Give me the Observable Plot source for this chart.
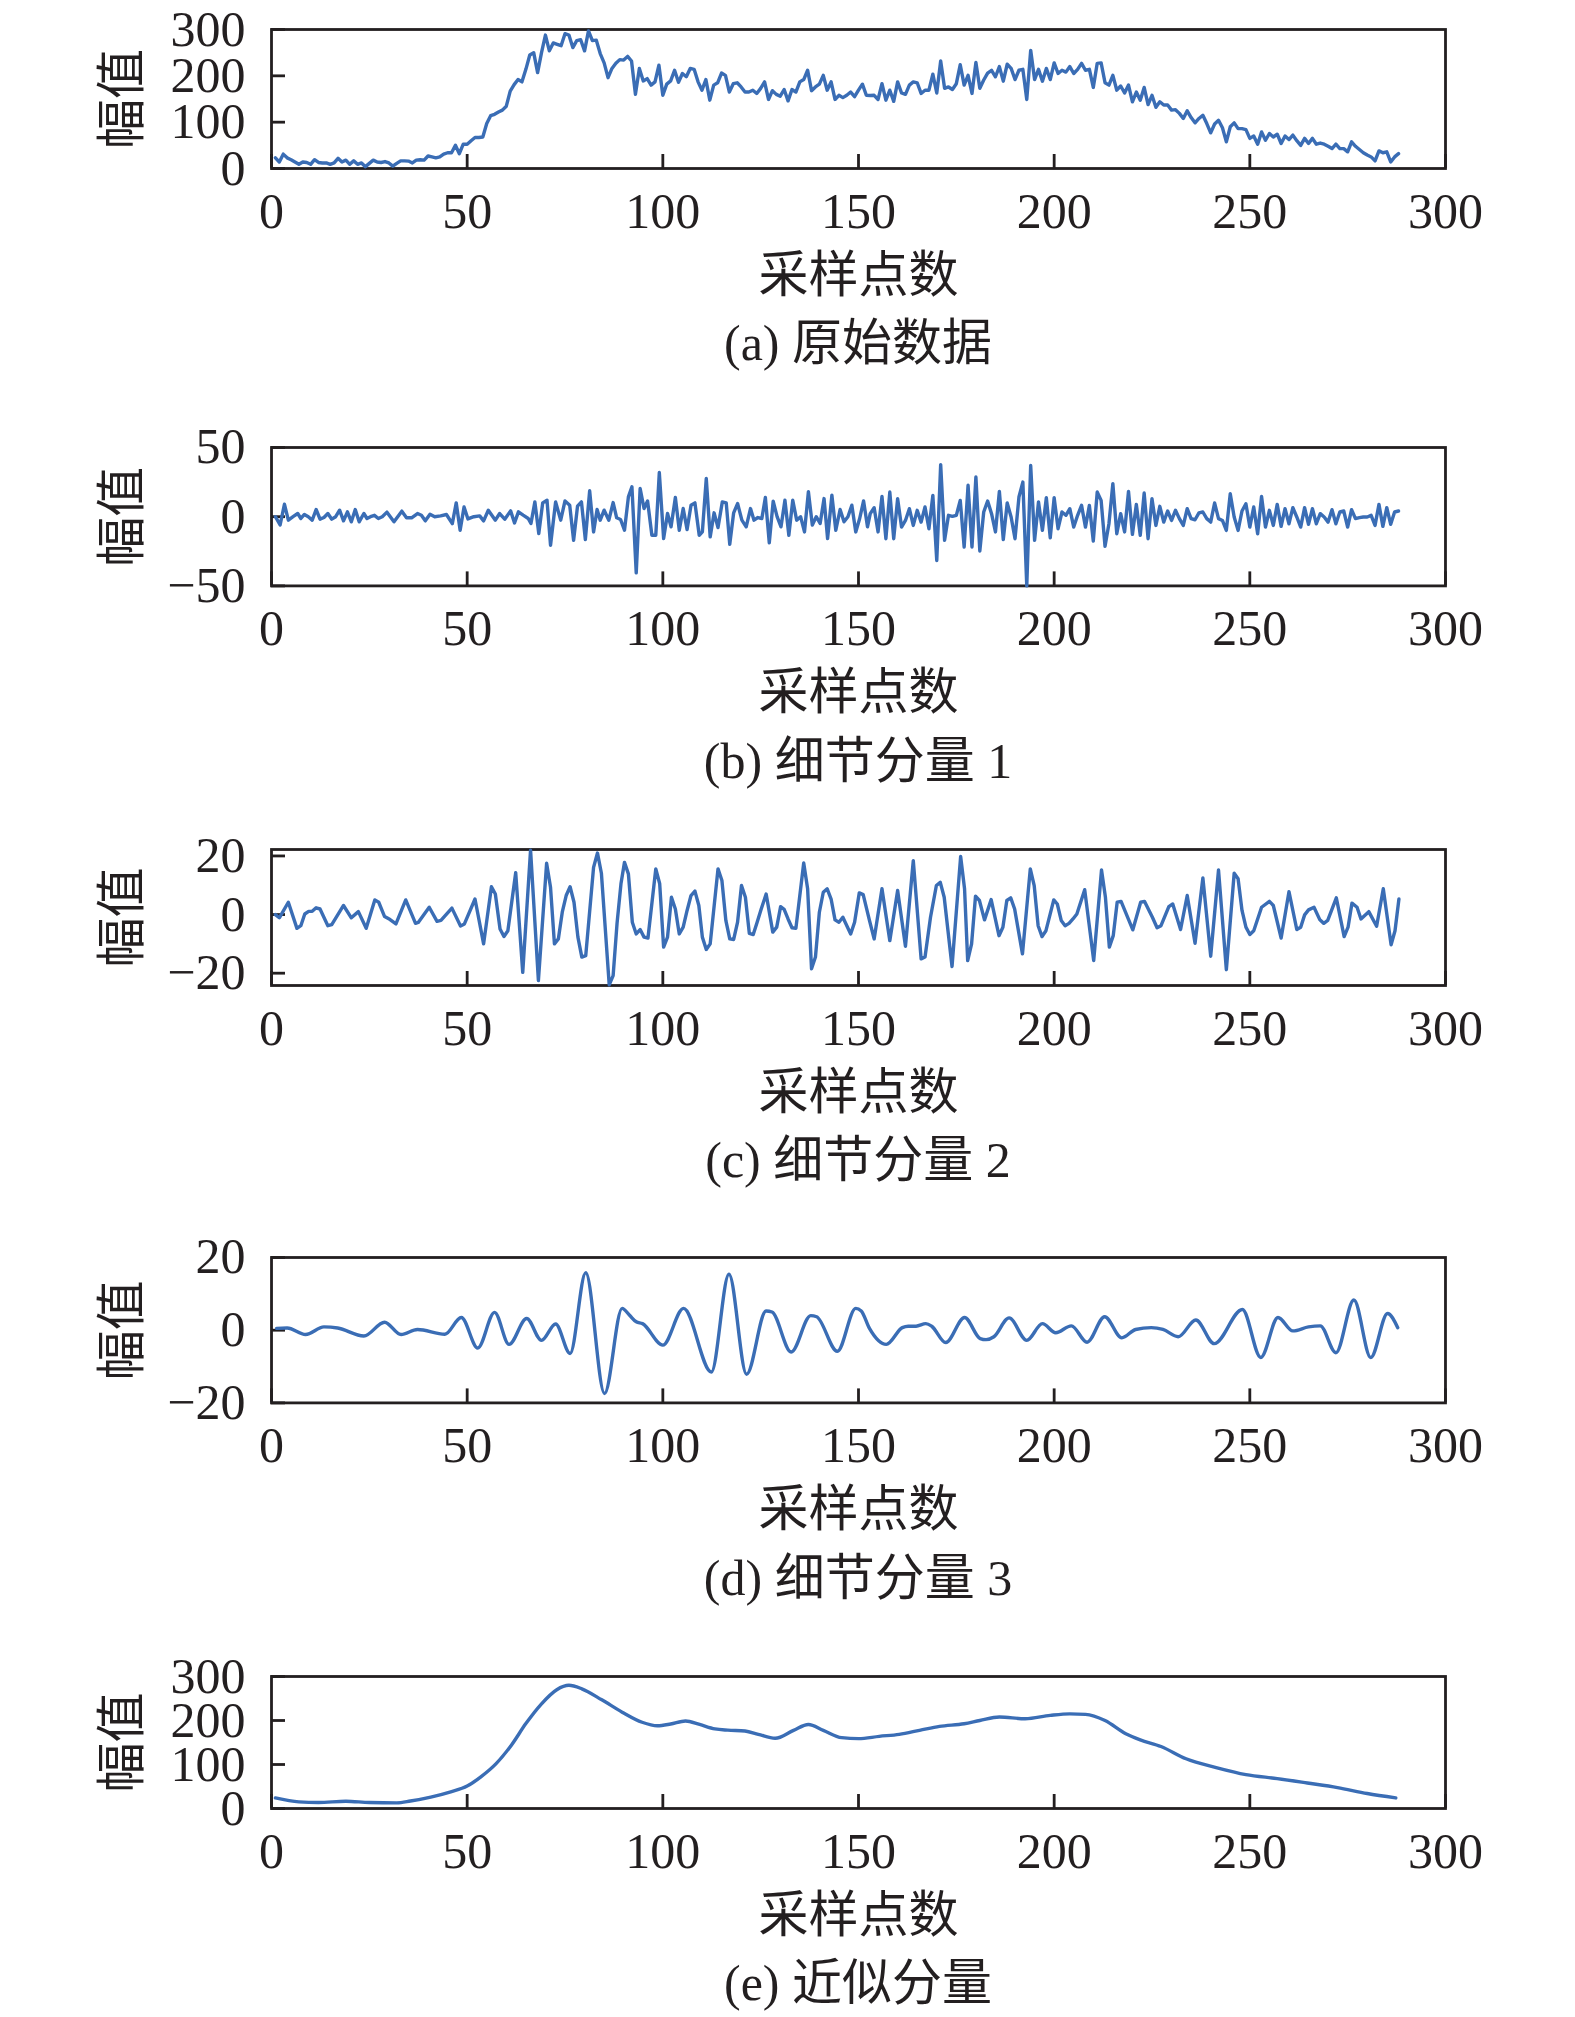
<!DOCTYPE html>
<html>
<head>
<meta charset="utf-8">
<script src="https://cdn.jsdelivr.net/npm/d3@7"></script>
<script src="https://cdn.jsdelivr.net/npm/@observablehq/plot@0.6"></script>
<style>
  html, body { margin: 0; padding: 0; background: #fff; }
  #root { position: relative; width: 1575px; height: 2017px; overflow: hidden; background: #fff; }
  .panel { position: absolute; left: 0; }
  .cap { position: absolute; left: 271px; width: 1174px; text-align: center; font-size: 50px; line-height: 60px;
         font-family: "Liberation Serif", "Noto Sans CJK SC", serif; color: #231f20; white-space: pre; }
</style>
</head>
<body>
<div id="root"></div>
<script>
// ---------- data ----------
const xTicks = [0, 50, 100, 150, 200, 250, 300];

// (a) original data, sample index 1..288
const original = [
  23,14,31,23,19,14,9,14,13,9,19,13,12,12,9,12,22,14,18,9,
  16.5,9,12,4,11,18,14,13,15,12,5,11,16.5,16.5,16,12,18,19,18,27,
  25,23,25,31,34,34,50,32,52.5,52.5,60,67,67,68,97,114,117,122,126,134.5,
  167,181,192,187,214,245,250,207,250,288,254,271,268,265,291,288,261,276,278,254,
  297,276,277,248,228,196,216,227,235,234,242,232,160,216,189,194,180,187,223,158,
  182,189,212,186,205,198,216,214,187,169,192,147.5,180,185,206,201,165,183,185,176,
  165,165,169,162,173,187,149,168,160,156,170.5,146,170.5,165,187,192,212,168,176,182,
  201,169,187,149,158,153,158,165,
  155,169,182,158,157.5,158,149,183,147.5,169,145,187,163,160,180,187,185,162,169,169,
  203.5,163,232,173,176,170.5,183,224,180,201,162,229,173,191,206,212,198,220,188.5,225,
  216,192,212,214,
  149,255,192,214,188.5,216,192,228,205,212,208,220,205,214,227,212,214,175,227,228,
  185,180,201,169,178,163,180,144,165,147.5,175,138,158,132,144,137,137,126,127,119,
  108,124.5,110,98.5,108,115,97,77,96,104,88,57.5,90,98.5,86,86,84,65,70,52.5,
  79,61,75.5,68,74,54,70,62.5,72,60,50,65,54,65,52.5,55,52.5,48,43,52.5,
  43,43,36,57.5,48,41,34,29,25,16.5,38,34,36,14,25,32
];

// (b) detail component 1: first part as [sample, value], second part from sample 153 on
const detail1Early = [
  [1,0],[2.2,-6],[3.3,9],[4.3,-2.5],[5.5,0],[6.7,2.3],[7.5,-1.3],[8.4,1.6],[9.4,0],[10.4,-2.5],
  [11.4,5.2],[12.4,-1.8],[13.4,-0.6],[14.4,2.3],[15.4,-1.8],[16.4,0],[17.4,4.7],[18.4,-3],[19.4,3.5],[20.4,-3.7],
  [21.4,5.2],[22.4,-3.7],[23.6,2.3],[24.4,-1.3],[25.3,0],[26.3,1],[27.3,-1.3],[28.3,0],[29.5,3.3],[31.3,-3.7],
  [33.3,4],[34.5,-0.8],[35.8,-0.8],[37.3,2.3],[38.3,1],[39.3,-3],[40.5,1.8],[41.7,0],[43.2,0.6],[44.7,1.6],
  [46.2,-5],[47.2,10],[48.2,-9.8],[49.2,7],[50.2,-1.6],[51.7,0],[53.2,0.6],[54.2,-3],[55.4,4.7],[57.2,-2.5],
  [58.3,2.3],[59.6,-1.8],[61.1,4.2],[62.1,-4.5],[63.1,3.5],[64.3,1.1],[65.6,-1.3],[66.3,-4.9],[67.3,10.7],[68.3,-12.2],
  [69.3,10],[70.4,11.9],[71.3,-20.6],[72.6,10.7],[73.9,-2.5],[75,11.4],[76.2,8.3],[77.2,-17],[78.2,7.6],[79.2,10.7],
  [80.2,-16.5],[81.3,18.7],[82.3,-11],[83.2,5.2],[84,-2.5],[85,4.7],[86.2,-2.5],[87.3,10.2],[88.2,-0.8],[89.2,-2],
  [90.2,-9.8],[91.2,14.3],[92.1,21.6],[93.2,-40.6],[94.2,20.4],[95.2,5.9],[96.1,11.4],[97.2,-13.4],[98.2,-13.4],[99.1,31.9],
  [100.2,-15.8],[101.2,2.3],[102.1,-7.3],[103.2,13.9],[104.2,-9.8],[105.2,5.9],[106.2,-9.3],[107.2,8.3],[108.2,10],[109.3,-13.4],
  [110.1,-11],[111.1,27.6],[112.1,-14.6],[113.1,2.8],[114.1,-7.8],[115.2,10.7],[116.2,10],[117.1,-19.9],[118.1,2.8],[119.1,9.5],
  [120.2,-2.5],[121.3,-7.3],[122.4,5.9],[123.3,-2.5],[124.3,-0.6],[125.3,-1.3],[126.2,13.9],[127.2,-18.9],[128.2,11.2],[129.2,0],
  [130.2,-7.3],[131.2,11.9],[132.2,-13.4],[133.2,11.9],[134.2,-2.5],[135.2,0],[136.2,-11],[137.2,18],[138.2,-6.1],[139.2,0],
  [140.2,-4.9],[141.2,13.1],[142.1,-15.8],[143.2,15.5],[144.2,-9.8],[145.3,5.2],[146.3,-3.7],[147.3,0],[148.3,8.3],[149.3,-11],
  [150.3,-1.3],[151.3,11.4],[152.3,-7.3]
];
const detail1LateStart = 153;
const detail1Late = [
  2.2,6.5,-11,14.7,-15.9,17.8,-15.9,13,-7.5,-2.7,
  5.8,-6.3,4.6,-3.9,7,-8.7,15.4,-31.6,37.6,-17.1,
  1,0.2,1,11.8,-21.9,22.7,-21.9,28.7,-24.8,3.4,
  11.3,2.2,-11,18.3,-16.6,9.9,-0.2,-15.9,14.2,25,
  -50,37,-17.1,10.6,-9.9,13.7,-15.2,13.7,-8.7,3.4,
  1,5.8,-7.5,1,8.2,-7.5,8.2,-17.6,17.8,11.8,
  -21.4,-5.1,23.9,-12.3,2.2,-11,18.3,-12.8,8.9,-13.5,
  17.1,-15.9,13,-6.3,7.5,-3.9,4.1,-2.7,4.6,-1.4,
  -6.3,5.8,-1.4,-2.2,2.7,3.4,-1.4,-3.9,
  9.9,-1.4,-2.7,-9.9,16.6,-0.2,-9.9,4.1,9.4,-7.5,
  7,-12.3,14.7,-7.5,4.6,-6.3,8.9,-7,5.8,-5.1,
  6.5,-0.2,-7.5,6.5,-5.5,5.8,-5.1,2.2,-0.2,-3.9,
  5.1,-5.1,3.4,4.1,-7.5,5.1,-1.4,-0.7,-0.2,-0.2,
  1,-6.3,8.9,-7,6.5,-5.5,3.4,4.1
];

// (c) detail component 2: [sample, value]
const detail2 = [
  [1,0],[2,-1.1],[4.3,4.2],[6.5,-4.7],[7.5,-3.8],[8.5,0.2],[9.5,1.1],[10.4,1.1],[11.4,2.3],[12.4,1.9],
  [14.4,-3.8],[15.4,-3.4],[18.4,3.1],[20.4,-1.1],[22.2,1],[24.2,-4.7],[26.4,5],[27.4,4.2],[28.9,-0.7],[30.3,-1.7],
  [31.8,-3.2],[34.3,5],[36.8,-3],[37.5,-2.7],[40.3,2.5],[42.3,-2.3],[43.3,-2],[46.1,2.2],[48.3,-3.9],[49.3,-3.2],
  [52,5.3],[54.2,-10],[56.2,9.5],[57.2,7],[58.4,-4.9],[59.4,-7.5],[60.4,-5.5],[62.4,14.3],[64.2,-19.7],[66.2,22],
  [68.2,-22.5],[70.3,17.5],[71.3,9.3],[72.3,-10],[73.3,-8.3],[74.3,0.8],[75.3,6.5],[76.3,9.5],[77.3,4.2],[78.3,-7.7],
  [79.3,-14.5],[80.3,-14],[82.3,16.1],[83.3,21],[84.3,14.1],[86.3,-24],[87.3,-20.8],[88.3,-3],[89.3,10.5],[90.2,17.8],
  [91.2,13.9],[92.2,-2.6],[93.2,-6.6],[94.2,-5.1],[95.2,-7.7],[96.2,-8],[98.2,15.6],[99.2,10.5],[100.2,-11.1],[101.2,-7.7],
  [102.2,5.9],[103.2,1.9],[104.2,-6.6],[105.2,-4.3],[106.2,1.4],[107.2,6.5],[108.2,8],[109.2,3.1],[110.1,-7.7],[111.1,-11.9],
  [112.1,-10],[114.1,15.6],[115.1,11.6],[116.1,-2],[117.1,-8.3],[118.1,-8.5],[119.1,-2.6],[120.1,9.9],[121.1,5.9],[122.1,-6.4],
  [123.1,-6.8],[124.1,-2.6],[125.1,1.7],[126.4,7],[128.1,-6],[129.1,-4.3],[130.1,2.7],[131,1.8],[132,-1.5],[133,-4.5],
  [134,-4.7],[136,17.6],[137,8.8],[138,-18.5],[139,-14.5],[140,0.8],[141,7.6],[142,8.8],[143,5.3],[144,-1.8],
  [145,-2.6],[146,-0.9],[148,-6.6],[149,-2.6],[150.2,7.4],[151.2,6.8],
  [152.8,-2],[154,-8.3],[156,8.8],[158,-8.9],[160,8.2],[162,-10.8],[164,18.4],[166,-15.1],[167,-14.5],[168.4,-0.9],
  [169.9,9.9],[170.9,11],[171.9,5.9],[173.9,-17.7],[176.1,19.8],[177.1,8.8],[177.9,-15.7],[178.9,-10],[179.9,6.3],[180.9,4.8],
  [182.2,-1.8],[183.9,5.1],[185.9,-7.2],[186.9,-4.3],[187.9,4.8],[188.9,5.7],[189.9,1.9],[191.9,-13.4],[193.9,15.6],[194.9,9.9],
  [195.9,-3.8],[196.9,-7.5],[197.9,-5.5],[199.9,5],[200.8,3.6],[201.8,-2],[202.8,-3.8],[203.8,-3],[204.8,-1.5],[205.8,0.2],
  [207.8,8.5],[210.1,-15.7],[212.1,15.2],[213.1,5.9],[214.1,-11.1],[215.1,-7.2],[216.1,4.2],[217.1,4.5],[219.1,-2],[220.1,-5.2],
  [222.1,4.2],[223.1,4.5],[225.1,-0.9],[226.3,-4.5],[227.3,-3.8],[229.3,2.7],[230.3,3.6],[232.3,-5.1],[234,6.5],[236,-9.8],
  [238,12.5],[240,-14.2],[242,15.2],[244,-18.8],[246,14.1],[247,12.2],[248,1.4],[249,-4.3],[250,-6.8],[251,-5.5],
  [253,2.5],[255,4.5],[256,3.1],[258,-8],[260,7.8],[262,-5.1],[263,-4.3],[264,-0.1],[265,1.6],[266.4,2.5],
  [267.9,-1.8],[268.9,-3],[269.9,-2],[272.1,5.7],[274.1,-7.5],[275.1,-4.3],[276.1,3.9],[277.4,2.5],[278.4,-1.5],[280.4,1],
  [282.4,-4],[284.1,8.8],[286.1,-10.3],[287.1,-5.5],[288.1,5.3]
];

// (d) detail component 3: turning points [sample, value]
const detail3 = [
  [1.3,0.5],[4,0.6],[8.7,-1.2],[13.4,0.9],[16.9,0.6],[23.6,-1.6],[28.9,2.2],[33.1,-1.2],[37.3,0.2],[44.3,-1.1],
  [48.5,3.5],[52.7,-4.9],[57,4.9],[60.7,-3.9],[65.2,3.2],[69,-2.8],[72.6,1.7],[76.3,-6.4],[80.3,15.8],[85.1,-17.4],
  [89.6,6],[91.5,4.1],[93.2,2.3],[94.8,1.8],[100,-4.1],[105.3,6],[112.4,-11.5],[116.9,15.4],[121.4,-12.1],[126.4,5.3],
  [127.9,5],[132.8,-6],[137.8,4],[139.3,3.7],[144.6,-5.8],[149.3,6],[150.7,5.3],
  [152.8,0.5],[157.1,-3.9],[161.2,0.7],[162.7,1.1],[164.7,1.1],[167.2,1.8],[168.7,1.1],[172.3,-3.4],[177.1,3.5],[181.1,-2.3],
  [182.6,-2.6],[184.6,-1.8],[188.5,3.4],[193,-2.8],[197,1.8],[200.4,-0.7],[204.4,1.2],[208.4,-3.3],[212.9,3.7],[217.3,-2.1],
  [220.8,0.2],[224.8,0.7],[227.8,0.2],[231.7,-1.8],[236.2,2.8],[240.9,-3.7],[248.1,5.7],[252.8,-7.5],[257.2,3.5],[261,-0.2],
  [265,0.9],[268,1.2],[272,-6.2],[276.6,8.3],[280.9,-7.5],[285.2,4.6],[287.8,0.7]
];

// (e) approximation component: [sample, value]
const approx = [
  [1,24],[7,15],[12,13.6],[19,16.6],[25,13.6],[32,12.8],[35.5,17],[40.7,26],[45.8,38],[50,51],
  [53.5,72],[57.4,102],[61.3,144],[65,193],[69,238],[72.9,270],[76,280],[79.3,272],[84.4,247],[89.6,219],
  [94.7,196],[98.6,188],[102,192],[105.8,199],[109.4,191],[113.3,181],[116.6,178],[121,176],[124.4,168.5],[128.7,159.5],
  [133.4,177.6],[137.2,191],[141,177.6],[145.7,161],[150,158.7],[155.3,164],[160.4,168.5],[165.6,177.6],[170.7,186.7],[177,192.7],
  [181,200],[186,208],[192.6,204],[199,211.6],[204,215],[208,214],[213,200],[218.3,170],[222,156],[227.3,141],
  [233.7,113],[241.4,93],[249,77],[257,68],[264.7,58],[272.4,47.6],[280,34],[287.3,24]
];

const yTicksA = [0, 100, 200, 300];
const yTicksB = [-50, 0, 50];
const yTicksC = [-20, 0, 20];
const yTicksD = [-20, 0, 20];
const yTicksE = [0, 100, 200, 300];

const xLabel = "采样点数";
const yLabel = "幅值";
const captions = ["(a) 原始数据", "(b) 细节分量 1", "(c) 细节分量 2", "(d) 细节分量 3", "(e) 近似分量"];

// ---------- drawing ----------
const BLUE = "#3a6db5";
const INK = "#231f20";
const SERIF = "Liberation Serif, serif";
const CJK = "Noto Sans CJK SC, sans-serif";
const W = 1575, ML = 271, MR = 130, MT = 40, MB = 150;
const innerW = W - ML - MR;
const fmt = d => (d < 0 ? "\u2212" + Math.abs(d) : String(d));

const root = document.getElementById("root");

function panel(opts) {
  const { top, innerH, domain, yticks, data, curve, caption } = opts;
  const chart = Plot.plot({
    width: W,
    height: MT + innerH + MB,
    marginLeft: ML, marginRight: MR, marginTop: MT, marginBottom: MB,
    x: { domain: [0, 300], axis: null },
    y: { domain, axis: null },
    style: { background: "transparent", overflow: "visible", color: INK },
    marks: [
      Plot.frame({ stroke: INK, strokeWidth: 2.8 }),
      Plot.ruleX(xTicks, { x: d => d, stroke: INK, strokeWidth: 2.8, insetTop: innerH - 14 }),
      Plot.ruleY(yticks, { y: d => d, stroke: INK, strokeWidth: 2.8, insetRight: innerW - 14 }),
      Plot.line(data, { x: "x", y: "y", stroke: BLUE, strokeWidth: 3.4, curve, strokeLinejoin: "round" }),
      Plot.text(xTicks, { x: d => d, frameAnchor: "bottom", dy: 43, text: d => fmt(d), fontSize: 50, fontFamily: SERIF, fill: INK, textAnchor: "middle", lineAnchor: "middle" }),
      Plot.text(yticks, { y: d => d, frameAnchor: "left", dx: -26, textAnchor: "end", text: d => fmt(d), fontSize: 50, fontFamily: SERIF, fill: INK, lineAnchor: "middle" }),
      Plot.text([xLabel], { frameAnchor: "bottom", dy: 107, text: d => d, fontSize: 50, fontFamily: CJK, fill: INK, textAnchor: "middle", lineAnchor: "middle" }),
      Plot.text([yLabel], { frameAnchor: "left", dx: -149, rotate: -90, text: d => d, fontSize: 50, fontFamily: CJK, fill: INK, textAnchor: "middle", lineAnchor: "middle" })
    ]
  });
  const wrap = document.createElement("div");
  wrap.className = "panel";
  wrap.style.top = (top - MT) + "px";
  wrap.appendChild(chart);
  root.appendChild(wrap);
  const cap = document.createElement("div");
  cap.className = "cap";
  cap.textContent = caption;
  cap.style.top = (top + innerH + 175 - 30) + "px";
  root.appendChild(cap);
}

const dataA = original.map((v, i) => ({ x: i + 1, y: v }));
const dataB = detail1Early.map(([x, y]) => ({ x, y }))
  .concat(detail1Late.map((v, i) => ({ x: detail1LateStart + i, y: v })));
const dataC = detail2.map(([x, y]) => ({ x, y }));
const dataD = detail3.map(([x, y]) => ({ x, y }));
const dataE = approx.map(([x, y]) => ({ x, y }));

panel({ top: 29.3, innerH: 139, domain: [0, 300], yticks: yTicksA, data: dataA, curve: "linear", caption: captions[0] });
panel({ top: 447.3, innerH: 138.4, domain: [-50, 50], yticks: yTicksB, data: dataB, curve: "linear", caption: captions[1] });
panel({ top: 849, innerH: 136, domain: [-24.2, 22.2], yticks: yTicksC, data: dataC, curve: "linear", caption: captions[2] });
panel({ top: 1257.3, innerH: 145.4, domain: [-20, 20], yticks: yTicksD, data: dataD, curve: "monotone-x", caption: captions[3] });
panel({ top: 1676, innerH: 132, domain: [0, 300], yticks: yTicksE, data: dataE, curve: "monotone-x", caption: captions[4] });
</script>
</body>
</html>
